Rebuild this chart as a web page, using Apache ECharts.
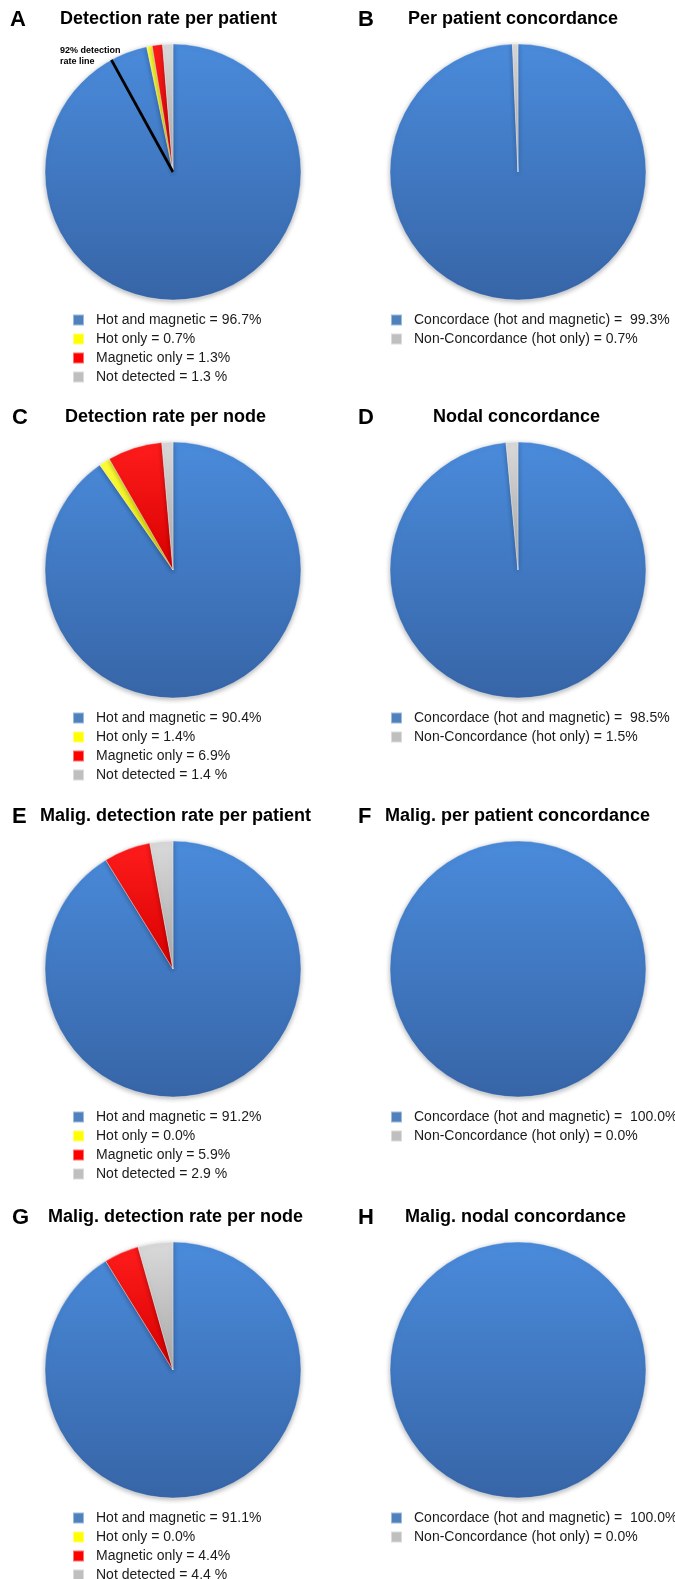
<!DOCTYPE html>
<html><head><meta charset="utf-8">
<script src="https://cdn.jsdelivr.net/npm/echarts@6/dist/echarts.min.js"></script>
<style>html,body{margin:0;padding:0;background:#fff}#c{width:675px;height:1579px}</style>
</head><body><div id="c"></div>
<script>
// ---- data ----
const detectionCategories = ['Hot and magnetic', 'Hot only', 'Magnetic only', 'Not detected'];
const detectionUnits = ['%', '%', '%', ' %'];
const concordanceCategories = ['Concordace (hot and magnetic)', 'Non-Concordance (hot only)'];
const concordanceSeparators = [' =  ', ' = '];
const panelA = [96.7, 0.7, 1.3, 1.3];
const panelB = [99.3, 0.7];
const panelC = [90.4, 1.4, 6.9, 1.4];
const panelD = [98.5, 1.5];
const panelE = [91.2, 0.0, 5.9, 2.9];
const panelF = [100.0, 0.0];
const panelG = [91.1, 0.0, 4.4, 4.4];
const panelH = [100.0, 0.0];
const detectionRateLine = 92;
const detectionRateLineLabel = '92% detection\nrate line';
const panelLetters = ['A', 'B', 'C', 'D', 'E', 'F', 'G', 'H'];
const panelTitles = ['Detection rate per patient', 'Per patient concordance',
  'Detection rate per node', 'Nodal concordance',
  'Malig. detection rate per patient', 'Malig. per patient concordance',
  'Malig. detection rate per node', 'Malig. nodal concordance'];

// ---- layout / style ----
const FONT = "'Liberation Sans', Arial, Helvetica, sans-serif";
const colX = [173, 518];
const rowT = [20, 418, 817, 1218];
const R = 128;
const titleLeft = [60, 408, 65, 433, 40, 385, 48, 405];
const letterLeft = [10, 358, 12, 358, 12, 358, 12, 358];
const legendLeft = [72, 390];
const grad = {
  blue: ['#4a8bdb', '#3765a7'],
  yellow: ['#ffff3a', '#e2e200'],
  red: ['#ff1c1c', '#d80000'],
  gray: ['#dadada', '#a8a8a8']
};
const flat = { blue: '#4f81bd', yellow: '#ffff00', red: '#ff0000', gray: '#bfbfbf' };
const detColors = ['blue', 'yellow', 'red', 'gray'];
const conColors = ['blue', 'gray'];

function lg(c) {
  return { type: 'linear', x: 0, y: 0, x2: 0, y2: 1,
    colorStops: [{ offset: 0, color: grad[c][0] }, { offset: 1, color: grad[c][1] }] };
}

const panels = [
  { vals: panelA, kind: 'det' }, { vals: panelB, kind: 'con' },
  { vals: panelC, kind: 'det' }, { vals: panelD, kind: 'con' },
  { vals: panelE, kind: 'det' }, { vals: panelF, kind: 'con' },
  { vals: panelG, kind: 'det' }, { vals: panelH, kind: 'con' }
];

const title = [], legend = [], series = [];
panels.forEach((p, i) => {
  const col = i % 2, row = Math.floor(i / 2);
  const cx = colX[col], T = rowT[row];
  const cats = p.kind === 'det' ? detectionCategories : concordanceCategories;
  const cols = p.kind === 'det' ? detColors : conColors;
  title.push({ text: panelLetters[i], left: letterLeft[i], top: T - 11, padding: 0,
    textStyle: { fontFamily: FONT, fontWeight: 'bold', fontSize: 22, color: '#000' } });
  title.push({ text: panelTitles[i], left: titleLeft[i], top: T - 10, padding: 0,
    textStyle: { fontFamily: FONT, fontWeight: 'bold', fontSize: 18, color: '#000' } });
  series.push({
    type: 'pie', center: [cx, T + 152], radius: R, startAngle: 90, clockwise: true,
    silent: true, animation: false, label: { show: false }, labelLine: { show: false },
    avoidLabelOverlap: false, z: 2,
    itemStyle: { shadowBlur: 5, shadowColor: 'rgba(0,0,0,0.3)', shadowOffsetY: 1.5 },
    data: cats.map((n, k) => ({ name: n, value: p.vals[k],
      itemStyle: { color: lg(cols[k]), borderWidth: p.vals[k] > 0 ? 0.8 : 0,
        borderColor: 'rgba(255,255,255,0.45)' } }))
  });
  const vals = p.vals;
  legend.push({
    orient: 'vertical', left: legendLeft[col], top: T + 300 - 7, padding: 0,
    width: 300, height: 120,
    itemWidth: 11, itemHeight: 11, itemGap: 5, icon: 'rect', selectedMode: false,
    data: cats.map((n, k) => ({ name: n, itemStyle: { color: flat[cols[k]] } })),
    textStyle: { fontFamily: FONT, fontSize: 14, lineHeight: 14, color: '#1a1a1a', padding: [0, 0, 0, 7] },
    formatter: function (name) {
      const k = cats.indexOf(name);
      if (p.kind === 'det') return name + ' = ' + vals[k].toFixed(1) + detectionUnits[k];
      return name + concordanceSeparators[k] + vals[k].toFixed(1) + '%';
    }
  });
});

// 92% detection rate line on panel A, drawn in a polar system aligned with pie A
series.push({
  type: 'line', coordinateSystem: 'polar', polarIndex: 0, symbol: 'none', silent: true,
  animation: false, clip: false, z: 5,
  lineStyle: { color: '#000', width: 2.8 },
  data: [[0, detectionRateLine], [1.015, detectionRateLine]]
});

const option = {
  backgroundColor: '#fff',
  animation: false,
  title: title,
  legend: legend,
  polar: [{ center: [colX[0], rowT[0] + 152], radius: R }],
  angleAxis: [{ type: 'value', polarIndex: 0, min: 0, max: 100, startAngle: 90, clockwise: true, show: false }],
  radiusAxis: [{ type: 'value', polarIndex: 0, min: 0, max: 1, show: false }],
  graphic: [{
    type: 'text', left: 60, top: 45, z: 10,
    style: { text: detectionRateLineLabel, font: "bold 9px 'Liberation Sans', Arial, sans-serif",
      lineHeight: 11, fill: '#000' }
  }],
  series: series
};
const chart = echarts.init(document.getElementById('c'), null, { renderer: 'canvas' });
chart.setOption(option);
</script>
</body></html>
